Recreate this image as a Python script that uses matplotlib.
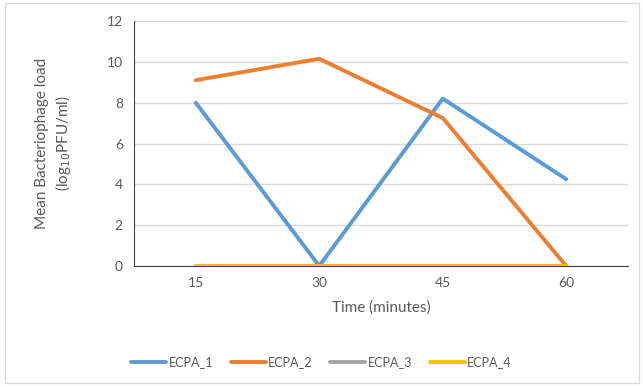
import matplotlib.pyplot as plt
import numpy as np

# tiempos de muestreo y carga media de fagos por cepa
tiempos = ['15', '30', '45', '60']
ecpa_1 = [8.0, 0.0, 8.2, 4.25]
ecpa_2 = [9.1, 10.15, 7.25, 0.0]
ecpa_3 = [0.0, 0.0, 0.0, 0.0]
ecpa_4 = [0.0, 0.0, 0.0, 0.0]
series = ['ECPA_1', 'ECPA_2', 'ECPA_3', 'ECPA_4']
colores = ['#5b9bd5', '#ed7d31', '#a5a5a5', '#ffc000']

plt.rcParams['font.family'] = ['Lato', 'DejaVu Sans']
gris = '#595959'

fig = plt.figure(figsize=(6.43, 3.87), dpi=100)
ax = fig.add_axes([134 / 643, 1 - 266 / 387, 494 / 643, 245 / 387])

x = np.arange(len(tiempos))
for nombre, valores, color in zip(series, [ecpa_1, ecpa_2, ecpa_3, ecpa_4], colores):
    ax.plot(x, valores, color=color, lw=2.8, label=nombre, solid_capstyle='round')

ax.set_xlim(-0.5, len(tiempos) - 0.5)
ax.set_ylim(0, 12)
ax.set_yticks(range(0, 13, 2))
ax.set_xticks(x)
ax.set_xticklabels(tiempos)
ax.grid(axis='y', color='#d9d9d9', lw=1)
ax.set_axisbelow(True)
ax.tick_params(length=0, labelsize=10, colors=gris, pad=8)

for lado in ['top', 'right']:
    ax.spines[lado].set_visible(False)
ax.spines['left'].set_color('#404040')
ax.spines['bottom'].set_color('#404040')

ax.set_xlabel('Time (minutes)', fontsize=11, color=gris, labelpad=8)
ax.set_ylabel('Mean Bacteriophage load\n(log$_{10}$PFU/ml)', fontsize=11, color=gris, labelpad=24, linespacing=1.3)

fig.legend(loc='center', bbox_to_anchor=(0.5, 1 - 362 / 387), ncol=4, frameon=False,
           fontsize=9, labelcolor=gris, handlelength=2.8, handletextpad=0.2, columnspacing=1.4)

# marco gris claro alrededor de la figura
fig.patches.append(plt.Rectangle((5 / 643, 4 / 387), 634 / 643, 380 / 387, transform=fig.transFigure,
                                 fill=False, edgecolor='#d9d9d9', lw=1))

fig.savefig('out.png', dpi=100)
